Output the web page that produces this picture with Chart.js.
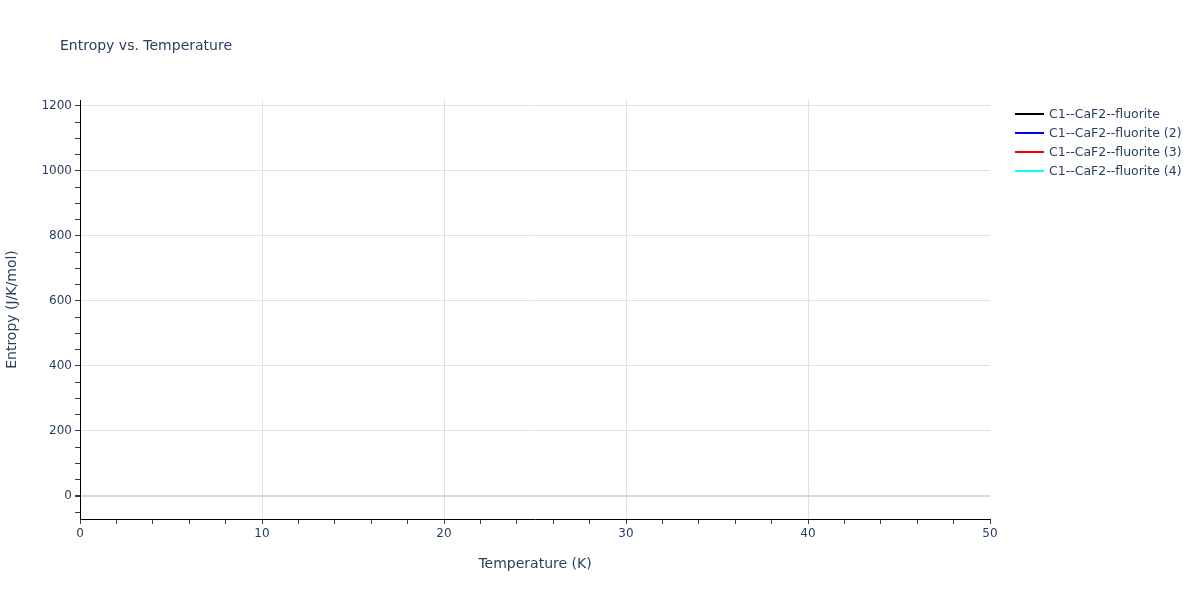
<!DOCTYPE html>
<html>
<head>
<meta charset="utf-8">
<script src="https://cdn.jsdelivr.net/npm/chart.js@4"></script>
<style>
  html, body { margin: 0; padding: 0; background: #fff; }
  #wrap { width: 1200px; height: 600px; }
</style>
</head>
<body>
<div id="wrap"><canvas id="chart" width="1200" height="600"></canvas></div>
<script>
// series shown in the legend; no points of them fall inside the plotted range
const seriesNames = ['C1--CaF2--fluorite', 'C1--CaF2--fluorite (2)', 'C1--CaF2--fluorite (3)', 'C1--CaF2--fluorite (4)'];
const seriesColors = ['#000000', '#0000ff', '#ff0000', '#00ffff'];
const seriesTemps = [[], [], [], []];
const seriesEntropy = [[], [], [], []];

const xTicks = [0, 10, 20, 30, 40, 50];
const yTicks = [0, 200, 400, 600, 800, 1000, 1200];
const xRange = [0, 50];
const yRange = [-71, 1218];

const textColor = '#2a3f5f';
const fontFam = '"DejaVu Sans", verdana, arial, sans-serif';

const datasets = seriesNames.map((name, i) => ({
  label: name,
  data: seriesTemps[i].map((t, j) => ({ x: t, y: seriesEntropy[i][j] })),
  borderColor: seriesColors[i],
  backgroundColor: seriesColors[i],
  borderWidth: 2,
  pointRadius: 0,
  fill: false
}));

// title, axis titles and legend
const textPlugin = {
  id: 'texts',
  afterDraw(chart) {
    const ctx = chart.ctx;
    const area = chart.chartArea;
    ctx.save();
    ctx.fillStyle = textColor;
    ctx.textBaseline = 'middle';
    ctx.font = '14px ' + fontFam;
    ctx.textAlign = 'left';
    ctx.fillText('Entropy vs. Temperature', 60, 46);

    ctx.font = '14px ' + fontFam;
    ctx.textAlign = 'center';
    ctx.fillText('Temperature (K)', (area.left + area.right) / 2, 564);
    ctx.save();
    ctx.translate(12, (area.top + area.bottom) / 2);
    ctx.rotate(-Math.PI / 2);
    ctx.fillText('Entropy (J/K/mol)', 0, 0);
    ctx.restore();

    ctx.font = '12.5px ' + fontFam;
    ctx.textAlign = 'left';
    chart.data.datasets.forEach((ds, i) => {
      const y = 114 + i * 19;
      ctx.strokeStyle = ds.borderColor;
      ctx.lineWidth = 2;
      ctx.beginPath();
      ctx.moveTo(1015, y);
      ctx.lineTo(1044, y);
      ctx.stroke();
      ctx.fillStyle = textColor;
      ctx.fillText(ds.label, 1049, y + 0.5);
    });
    ctx.restore();
  }
};

new Chart(document.getElementById('chart'), {
  type: 'line',
  data: { datasets: datasets },
  options: {
    responsive: false,
    animation: false,
    layout: { padding: { left: 0, right: 210, top: 100, bottom: 0 } },
    plugins: { legend: { display: false }, tooltip: { enabled: false } },
    scales: {
      x: {
        type: 'linear',
        min: xRange[0],
        max: xRange[1],
        afterBuildTicks: s => { s.ticks = []; for (let v = 0; v <= 50; v += 2) s.ticks.push({ value: v }); },
        afterFit: s => { s.height = 81; },
        border: { color: '#000', width: 1 },
        grid: {
          tickLength: 5,
          color: c => (c.tick && c.tick.value % 10 === 0 && c.tick.value > 0 && c.tick.value < 50) ? '#e1e1e1' : 'rgba(0,0,0,0)',
          tickColor: '#444'
        },
        ticks: {
          padding: 3,
          maxRotation: 0,
          autoSkip: false,
          color: textColor,
          font: { family: fontFam, size: 12 },
          callback: v => xTicks.includes(v) ? String(v) : ''
        }
      },
      y: {
        type: 'linear',
        min: yRange[0],
        max: yRange[1],
        afterBuildTicks: s => { s.ticks = []; for (let v = -50; v <= 1200; v += 50) s.ticks.push({ value: v }); },
        afterFit: s => { s.width = 80; },
        border: { color: '#000', width: 1 },
        grid: {
          tickLength: 5,
          color: c => {
            if (!c.tick) return 'rgba(0,0,0,0)';
            if (c.tick.value === 0) return '#d9d9d9';
            return yTicks.includes(c.tick.value) ? '#e1e1e1' : 'rgba(0,0,0,0)';
          },
          lineWidth: c => (c.tick && c.tick.value === 0) ? 2 : 1,
          tickColor: '#444'
        },
        ticks: {
          padding: 3,
          autoSkip: false,
          color: textColor,
          font: { family: fontFam, size: 12 },
          callback: v => yTicks.includes(v) ? String(v) : ''
        }
      }
    }
  },
  plugins: [textPlugin]
});
</script>
</body>
</html>
